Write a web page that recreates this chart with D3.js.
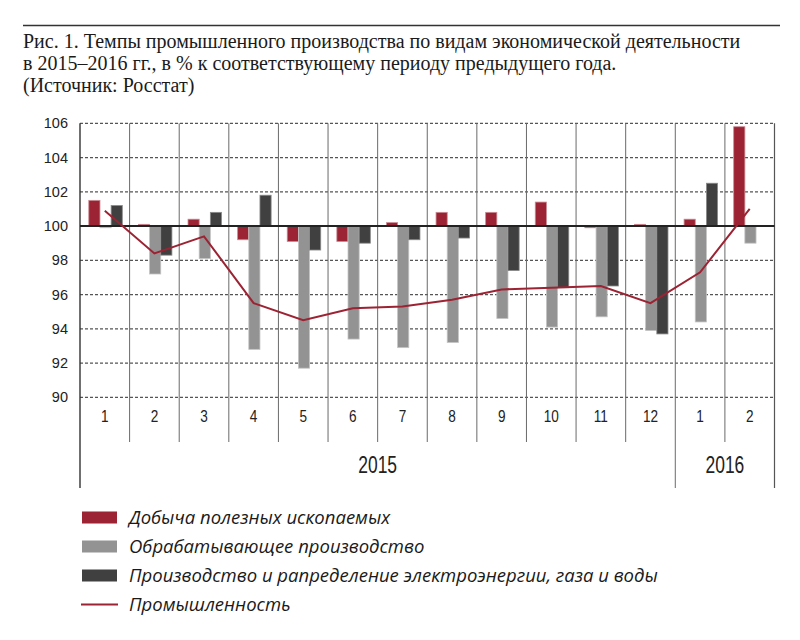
<!DOCTYPE html>
<html>
<head>
<meta charset="utf-8">
<script src="https://cdn.jsdelivr.net/npm/d3@7/dist/d3.min.js"></script>
<style>
  html, body { margin: 0; padding: 0; background: #fff; }
  svg { display: block; }
</style>
</head>
<body>
<svg id="chart" width="800" height="640"></svg>
<script>
// ---- Data ----
const months = ["1","2","3","4","5","6","7","8","9","10","11","12","1","2"];
const years = [
  { label: "2015", start: 0, end: 12 },
  { label: "2016", start: 12, end: 14 }
];
const yTicks = [90, 92, 94, 96, 98, 100, 102, 104, 106];
const seriesNames = [
  "Добыча полезных ископаемых",
  "Обрабатывающее производство",
  "Производство и рапределение электроэнергии, газа и воды"
];
const lineName = "Промышленность";
const mining        = [101.5, 100.1, 100.4, 99.2, 99.1, 99.1, 100.2, 100.8, 100.8, 101.4, 99.9, 100.1, 100.4, 105.8];
const manufacturing = [99.9, 97.2, 98.1, 92.8, 91.7, 93.4, 92.9, 93.2, 94.6, 94.1, 94.7, 93.9, 94.4, 99.0];
const utilities     = [101.2, 98.3, 100.8, 101.8, 98.6, 99.0, 99.2, 99.3, 97.4, 96.4, 96.5, 93.7, 102.5, null];
const industry      = [100.9, 98.4, 99.4, 95.5, 94.5, 95.2, 95.3, 95.7, 96.3, 96.4, 96.5, 95.5, 97.3, 101.0];
const titleLines = [
  "Рис. 1. Темпы промышленного производства по видам экономической деятельности",
  "в 2015–2016 гг., в % к соответствующему периоду предыдущего года.",
  "(Источник: Росстат)"
];

// ---- Styles ----
const colors = ["#9c2333", "#939393", "#404040"];
const edgeColors = ["#c98a92", "#c4c4c4", "#8a8a8a"];
const lineColor = "#9c2333";

const svg = d3.select("#chart");

// ---- Title ----
svg.append("line")
  .attr("x1", 23).attr("x2", 780).attr("y1", 25.5).attr("y2", 25.5)
  .attr("stroke", "#333").attr("stroke-width", 1.6);
svg.append("g").selectAll("text").data(titleLines).join("text")
  .attr("x", 23)
  .attr("y", (d, i) => 48 + i * 22)
  .attr("font-family", "'Liberation Serif', 'DejaVu Serif', serif")
  .attr("font-size", 20)
  .attr("fill", "#1a1a1a")
  .text(d => d);

// ---- Scales ----
const plotLeft = 80, plotRight = 774.5, plotTop = 123.3, plotBottom = 397.3;
const x = d3.scaleBand().domain(d3.range(months.length)).range([plotLeft, plotRight]).padding(0);
const bw = x.bandwidth();
const x1 = d3.scaleBand().domain(d3.range(3)).range([bw / 2 - 16, bw / 2 + 17.5]).padding(0);
const y = d3.scaleLinear().domain([90, 106]).range([plotBottom, plotTop]);

// ---- Grid ----
const grid = svg.append("g");
grid.selectAll("line.h").data(yTicks.filter(t => t !== 100)).join("line")
  .attr("class", "h")
  .attr("x1", plotLeft).attr("x2", plotRight)
  .attr("y1", d => y(d)).attr("y2", d => y(d))
  .attr("stroke", "#555").attr("stroke-width", 1.2)
  .attr("stroke-dasharray", "3,2");

const yearBounds = new Set(years.map(yy => yy.start).concat(years.map(yy => yy.end)));
const bounds = d3.range(1, months.length);
grid.selectAll("line.v").data(bounds).join("line")
  .attr("class", "v")
  .attr("x1", d => x(d)).attr("x2", d => x(d))
  .attr("y1", plotTop).attr("y2", d => yearBounds.has(d) ? 488 : 442)
  .attr("stroke", "#6a6a6a").attr("stroke-width", 1);

svg.append("line").attr("x1", plotLeft).attr("x2", plotLeft)
  .attr("y1", plotTop).attr("y2", 488)
  .attr("stroke", "#333").attr("stroke-width", 1.4);
svg.append("line").attr("x1", plotRight).attr("x2", plotRight)
  .attr("y1", plotTop).attr("y2", 488)
  .attr("stroke", "#555").attr("stroke-width", 1.2);

// y axis labels
const yAxis = d3.axisLeft(y).tickValues(yTicks).tickSize(0).tickPadding(10).tickFormat(d3.format("d"));
const yg = svg.append("g").attr("transform", `translate(${plotLeft - 2},0)`).call(yAxis);
yg.select(".domain").remove();
yg.selectAll("text")
  .attr("font-family", "'Liberation Sans', Arial, sans-serif")
  .attr("font-size", 14.5)
  .attr("fill", "#222");

// month labels (condensed)
const xAxis = d3.axisBottom(x).tickSize(0).tickPadding(0).tickFormat(i => months[i]);
const xg = svg.append("g").attr("transform", `translate(0,${plotBottom})`).call(xAxis);
xg.select(".domain").remove();
xg.selectAll("text")
  .attr("y", 0).attr("dy", "0.35em")
  .attr("transform", "translate(0,19) scale(0.8,1)")
  .attr("font-family", "'Liberation Sans', Arial, sans-serif")
  .attr("font-size", 17)
  .attr("fill", "#222");

// year labels (condensed)
svg.append("g").selectAll("text").data(years).join("text")
  .attr("transform", d => `translate(${(x(d.start) + (d.end < months.length ? x(d.end) : plotRight)) / 2},465) scale(0.76,1)`)
  .attr("dy", "0.35em")
  .attr("text-anchor", "middle")
  .attr("font-family", "'Liberation Sans', Arial, sans-serif")
  .attr("font-size", 23)
  .attr("fill", "#222")
  .text(d => d.label);

// ---- Bars ----
const seriesData = [mining, manufacturing, utilities];
const barsG = svg.append("g");
seriesData.forEach((vals, s) => {
  barsG.append("g").selectAll("rect")
    .data(vals.map((v, i) => ({ v, i })).filter(d => d.v !== null))
    .join("rect")
    .attr("x", d => x(d.i) + x1(s))
    .attr("width", x1.bandwidth())
    .attr("y", d => y(Math.max(d.v, 100)))
    .attr("height", d => Math.abs(y(d.v) - y(100)))
    .attr("fill", colors[s])
    .attr("stroke", edgeColors[s])
    .attr("stroke-width", 0.8);
});

svg.append("line")
  .attr("x1", plotLeft).attr("x2", plotRight)
  .attr("y1", y(100)).attr("y2", y(100))
  .attr("stroke", "#222").attr("stroke-width", 2);

// ---- Line ----
const lineGen = d3.line()
  .x((d, i) => x(i) + bw / 2)
  .y(d => y(d));
svg.append("path")
  .datum(industry)
  .attr("d", lineGen)
  .attr("fill", "none")
  .attr("stroke", lineColor)
  .attr("stroke-width", 2);

// ---- Legend ----
const legendItems = seriesNames.map((n, i) => ({ name: n, type: "rect", color: colors[i] }))
  .concat([{ name: lineName, type: "line", color: lineColor }]);
const lg = svg.append("g");
const rows = lg.selectAll("g").data(legendItems).join("g")
  .attr("transform", (d, i) => `translate(82,${517.5 + i * 29})`);
rows.filter(d => d.type === "rect").append("rect")
  .attr("x", 0).attr("y", -6).attr("width", 35).attr("height", 12)
  .attr("fill", d => d.color);
rows.filter(d => d.type === "line").append("line")
  .attr("x1", -1).attr("x2", 36).attr("y1", 0).attr("y2", 0)
  .attr("stroke", d => d.color).attr("stroke-width", 2);
rows.append("text")
  .attr("x", 47).attr("y", 0).attr("dy", "0.35em")
  .attr("font-family", "'Open Sans', sans-serif")
  .attr("font-style", "italic")
  .attr("font-size", 18.5)
  .attr("fill", "#1a1a1a")
  .text(d => d.name);
</script>
</body>
</html>
